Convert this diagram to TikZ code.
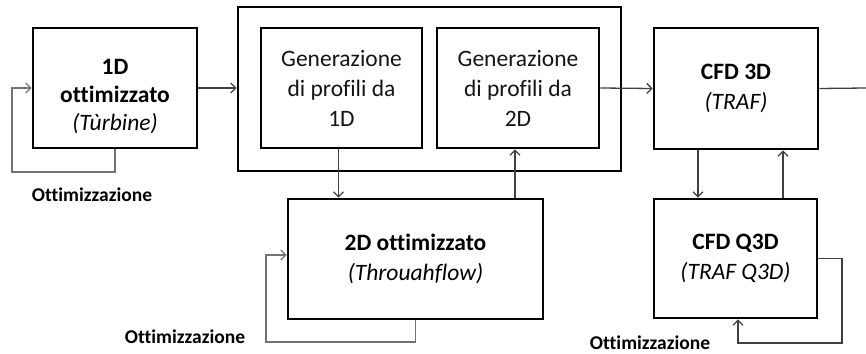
\documentclass[tikz,border=0pt]{standalone}
\usepackage{fontspec}
\setmainfont{Carlito}[Ligatures={NoCommon}]
\usepackage{tikz}
\usetikzlibrary{arrows.meta}

\begin{document}
\begin{tikzpicture}[x=1pt,y=-1pt,>={Straight Barb[length=5pt,width=10pt]}]
\tikzstyle{blk}=[draw=black,line width=2.6pt,inner sep=0pt,align=center,font=\fontsize{23.5}{30}\selectfont]
\tikzstyle{txt}=[inner sep=0pt,align=center,font=\fontsize{23.5}{28}\selectfont]
\tikzstyle{lbl}=[inner sep=0pt,font=\fontsize{19.5}{22}\selectfont\bfseries]
\tikzstyle{arr}=[->,draw=black!75,line width=1.3pt]
\tikzstyle{fb}=[->,draw=black!55,line width=1.3pt]
\useasboundingbox (0,0) rectangle (866,353);
\node [blk,minimum width=383pt,minimum height=164pt] (outer) at (429.5,89) {};
\node [blk,minimum width=164pt,minimum height=120pt] (opt1d) at (115,88) {};
\node [txt] (opt1dtxt) at ([yshift=-8pt]opt1d.center) {\textbf{1D}\\ \textbf{ottimizzato}\\ \textit{(Tùrbine)}};
\node [blk,minimum width=161pt,minimum height=120pt,text=black!92] (gen1) at (341.5,88) {Generazione\\ di profili da\\ 1D};
\node [blk,minimum width=162pt,minimum height=120pt,text=black!92] (gen2) at (518,88) {Generazione\\ di profili da\\ 2D};
\node [blk,minimum width=164pt,minimum height=121pt] (cfd3d) at (736,88.5) {\textbf{CFD 3D}\\ \textit{(TRAF)}};
\node [blk,minimum width=255pt,minimum height=120pt] (opt2d) at (415.5,259) {\textbf{2D ottimizzato}\\ \textit{(Throuahflow)}};
\node [blk,minimum width=163pt,minimum height=119pt] (q3d) at (735.5,258.5) {\textbf{CFD Q3D}\\ \textit{(TRAF Q3D)}};
\node [lbl] (ott1) at (92,195) {Ottimizzazione};
\node [lbl] (ott2) at (185,337) {Ottimizzazione};
\node [lbl] (ott3) at (650,342.5) {Ottimizzazione};
\coordinate (c1) at (12,172);
\coordinate (c2) at (266,342);
\coordinate (c3) at (842,343);
\coordinate (uscita) at (866,88);
% flusso principale
\draw [arr] (opt1d.east) -- (outer.west |- opt1d.east);
\draw [arr] (gen2.east) -- (cfd3d.west);
\draw [draw=black!75,line width=1.3pt] (cfd3d.east) -- (uscita);
\draw [arr] ([xshift=-3pt]gen1.south) -- ([xshift=-3pt]gen1.south |- opt2d.north);
\draw [arr] ([xshift=-3pt]gen2.south |- opt2d.north) -- ([xshift=-3pt]gen2.south);
\draw [arr] ([xshift=-38pt]cfd3d.south) -- ([xshift=-38pt]cfd3d.south |- q3d.north);
\draw [arr] ([xshift=47pt]cfd3d.south |- q3d.north) -- ([xshift=47pt]cfd3d.south);
% cicli di ottimizzazione
\draw [fb] (opt1d.south) |- (c1) |- (opt1d.west);
\draw [fb] (opt2d.south) |- (c2) |- ([yshift=4pt]opt2d.west);
\draw [arr] (q3d.east) -| (c3) -| ([xshift=2.5pt]q3d.south);
\end{tikzpicture}
\end{document}
